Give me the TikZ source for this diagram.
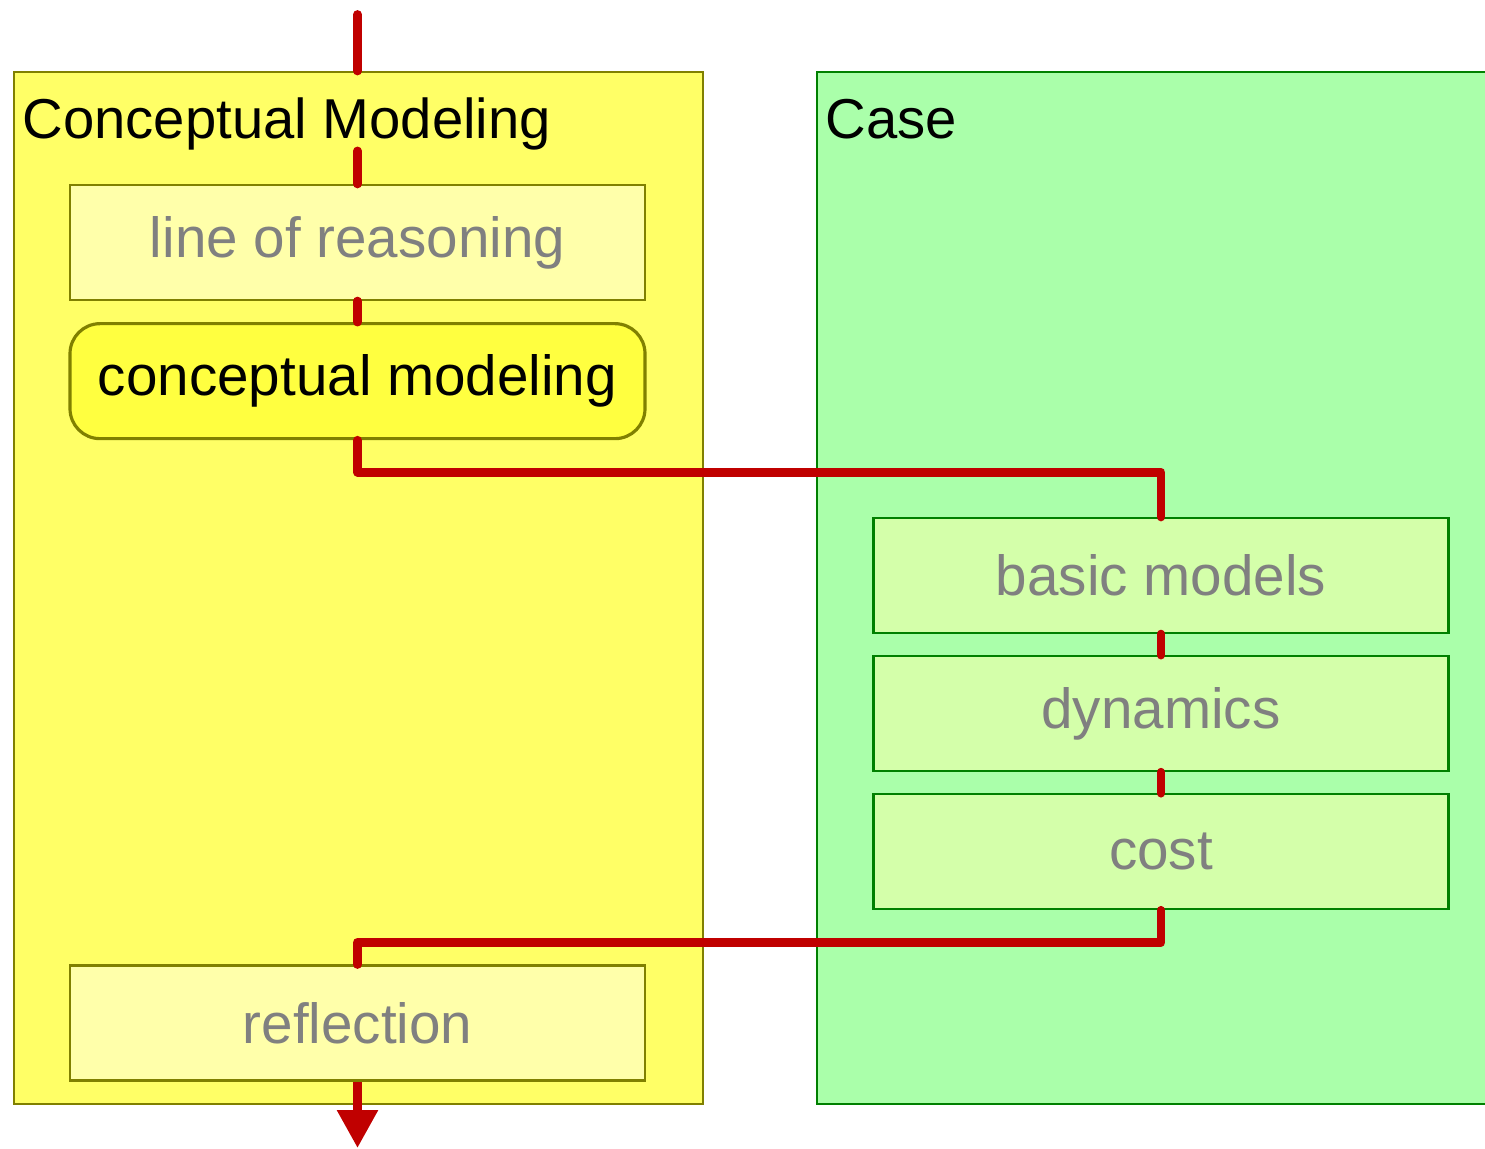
\documentclass[tikz,border=0pt]{standalone}
\usepackage{fontspec}
\setmainfont{Liberation Sans}
\usetikzlibrary{arrows.meta, positioning}
\definecolor{areayellow}{RGB}{255,255,102}
\definecolor{stepyellow}{RGB}{255,255,170}
\definecolor{activeyellow}{RGB}{255,255,64}
\definecolor{areagreen}{RGB}{170,255,170}
\definecolor{stepgreen}{RGB}{212,255,170}
\definecolor{darkolive}{RGB}{128,128,0}
\definecolor{darkgreen}{RGB}{0,128,0}
\definecolor{flowred}{RGB}{192,0,0}
\tikzstyle{area} = [rectangle, line width=0.6pt, inner sep=0pt, minimum height=10.32cm, anchor=north west]
\tikzstyle{area_title} = [anchor=base west, inner sep=0pt, font=\fontsize{16}{19}\selectfont]
\tikzstyle{step_box} = [rectangle, text centered, line width=0.6pt, inner sep=0pt, minimum width=5.75cm, minimum height=1.15cm, text=black!50, font=\fontsize{16.1}{19}\selectfont]
\tikzstyle{cm_step} = [step_box, draw=darkolive, fill=stepyellow]
\tikzstyle{case_step} = [step_box, draw=darkgreen, fill=stepgreen]
\tikzstyle{active_step} = [step_box, rounded corners=0.3cm, line width=0.9pt, draw=darkolive, fill=activeyellow, text=black]
\tikzstyle{flow_line} = [line width=2.5pt, flowred, line cap=round, line join=round]

\begin{document}
\begin{tikzpicture}

    \useasboundingbox (0,0) rectangle (14.85,-11.48);

    % areas
    \node (cm) [area, draw=darkolive, fill=areayellow, minimum width=6.89cm] at (0.13,-0.71) {};
    \node (case) [area, draw=darkgreen, fill=areagreen, minimum width=6.8cm] at (8.16,-0.71) {};

    \node (cm_title) [area_title] at ([shift={(0.09,-0.67)}]cm.north west) {Conceptual Modeling};
    \node (case_title) [area_title] at ([shift={(0.09,-0.67)}]case.north west) {Case};

    % steps
    \node (reasoning) [cm_step] at (3.575,-2.425) {line of reasoning};
    \node (modeling) [active_step, below=0.21cm of reasoning] {conceptual modeling};
    \node (reflection) [cm_step] at (3.575,-10.23) {reflection};

    \node (basic) [case_step] at (11.61,-5.755) {basic models};
    \node (dynamics) [case_step, below=0.21cm of basic] {dynamics};
    \node (cost) [case_step, below=0.21cm of dynamics] {cost};

    \coordinate (start) at (3.575,-0.145);
    \coordinate (resume) at ([yshift=0.33cm]reasoning.north);
    \coordinate (finish) at (3.575,-11.48);

    % flow
    \draw [flow_line] (start) -- (start |- cm.north);
    \draw [flow_line] (resume) -- (reasoning.north);
    \draw [flow_line] (reasoning.south) -- (modeling.north);
    \draw [flow_line] (modeling.south) -- ++(0,-0.32) -| (basic.north);
    \draw [flow_line] (basic.south) -- (dynamics.north);
    \draw [flow_line] (dynamics.south) -- (cost.north);
    \draw [flow_line] (cost.south) -- ++(0,-0.32) -| (reflection.north);
    \draw [flow_line, line cap=butt, -{Triangle[length=0.38cm, width=0.39cm]}] (reflection.south) -- (finish);

\end{tikzpicture}
\end{document}
